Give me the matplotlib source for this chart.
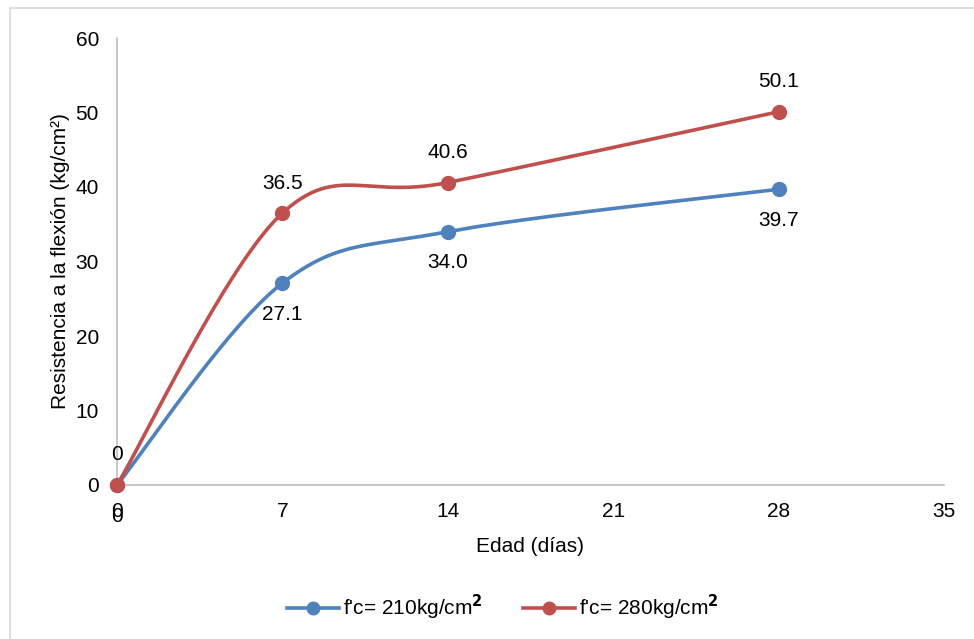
import numpy as np
import matplotlib.pyplot as plt
from matplotlib.lines import Line2D

plt.rcParams['font.family'] = ['Liberation Sans', 'DejaVu Sans']

days = [0, 7, 14, 28]
fc210 = [0, 27.1, 34.0, 39.7]
fc280 = [0, 36.5, 40.6, 50.1]
labels210 = ['0', '27.1', '34.0', '39.7']
labels280 = ['0', '36.5', '40.6', '50.1']
xticks = [0, 7, 14, 21, 28, 35]
yticks = [0, 10, 20, 30, 40, 50, 60]

BLUE = '#4F81BD'
RED = '#C0504D'
FS = 15


def smooth(xs, ys, n=60):
    # Excel-style smoothed line (Catmull-Rom bezier)
    pts = np.column_stack([xs, ys]).astype(float)
    out = [pts[0]]
    for i in range(len(pts) - 1):
        p0 = pts[i - 1] if i > 0 else pts[i]
        p1, p2 = pts[i], pts[i + 1]
        p3 = pts[i + 2] if i + 2 < len(pts) else pts[i + 1]
        c1 = p1 + (p2 - p0) / 6
        c2 = p2 - (p3 - p1) / 6
        t = np.linspace(0, 1, n)[1:, None]
        seg = ((1 - t) ** 3) * p1 + 3 * ((1 - t) ** 2) * t * c1 + 3 * (1 - t) * t ** 2 * c2 + t ** 3 * p2
        out.extend(seg)
    out = np.array(out)
    return out[:, 0], out[:, 1]


fig = plt.figure(figsize=(9.74, 6.39), dpi=100)
ax = fig.add_axes([117 / 974, 1 - 485 / 639, (944 - 117) / 974, (485 - 38) / 639])

for ys, col, labs, off in [(fc210, BLUE, labels210, -31), (fc280, RED, labels280, 30)]:
    sx, sy = smooth(days, ys)
    ax.plot(sx, sy, color=col, lw=2.6, solid_capstyle='round', clip_on=False, zorder=3)
    ax.plot(days, ys, 'o', color=col, ms=10, clip_on=False, zorder=4)
    for x, y, s in zip(days, ys, labs):
        ax.annotate(s, (x, y), xytext=(0, off), textcoords='offset pixels',
                    ha='center', va='center', fontsize=FS, color='black')

ax.set_xlim(0, 35)
ax.set_ylim(0, 60)
ax.set_xticks(xticks)
ax.set_yticks(yticks)
ax.tick_params(length=0, labelsize=FS, pad=12)
ax.tick_params(axis='y', pad=13)
for s in ['top', 'right']:
    ax.spines[s].set_visible(False)
for s in ['left', 'bottom']:
    ax.spines[s].set_color('#BFBFBF')
    ax.spines[s].set_linewidth(1.2)

ax.set_xlabel('Edad (días)', fontsize=FS, labelpad=12)
ax.set_ylabel('Resistencia a la flexión (kg/cm²)', fontsize=FS, labelpad=4)

handles = [Line2D([], [], color=BLUE, lw=2.6, marker='o', ms=9),
           Line2D([], [], color=RED, lw=2.6, marker='o', ms=9)]
fig.legend(handles, [r"f'c= 210kg/cm$\mathbf{^2}$", r"f'c= 280kg/cm$\mathbf{^2}$"],
           loc='center', bbox_to_anchor=(503 / 974, 1 - 607 / 639), ncol=2, frameon=False,
           fontsize=FS, handlelength=2.5, columnspacing=1.9, handletextpad=0.2)

# chart area border
fig.add_artist(Line2D([10 / 974, 10 / 974], [0, 1 - 8 / 639], transform=fig.transFigure, color='#D9D9D9', lw=1.2))
fig.add_artist(Line2D([10 / 974, 1], [1 - 8 / 639, 1 - 8 / 639], transform=fig.transFigure, color='#D9D9D9', lw=1.2))

fig.savefig('out.png', dpi=100)
